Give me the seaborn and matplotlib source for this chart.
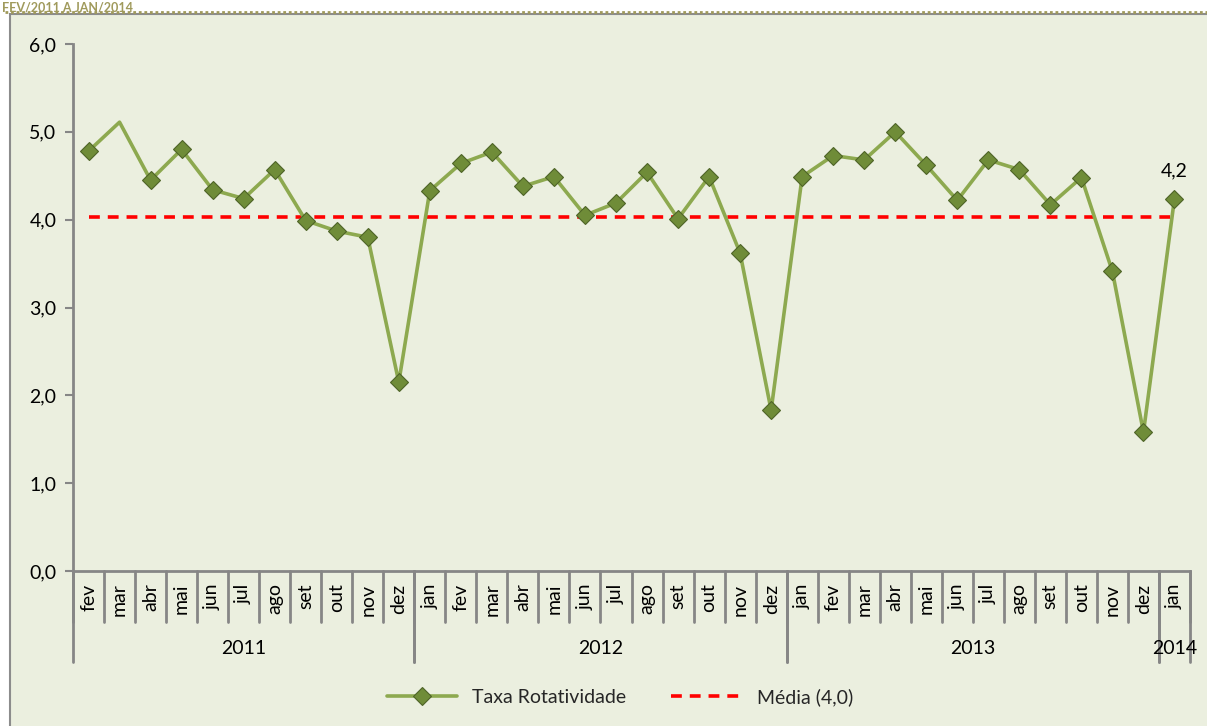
import numpy as np
import pandas as pd
import seaborn as sns
import matplotlib.pyplot as plt
from matplotlib.patches import Rectangle
from matplotlib.lines import Line2D
from matplotlib.ticker import FuncFormatter
import matplotlib.transforms as mtrans

# data
months = ["fev", "mar", "abr", "mai", "jun", "jul", "ago", "set", "out", "nov", "dez",
          "jan", "fev", "mar", "abr", "mai", "jun", "jul", "ago", "set", "out", "nov", "dez",
          "jan", "fev", "mar", "abr", "mai", "jun", "jul", "ago", "set", "out", "nov", "dez",
          "jan"]
years = ["2011", "2012", "2013", "2014"]
year_counts = [11, 12, 12, 1]
taxa = [4.78, 5.11, 4.45, 4.80, 4.34, 4.24, 4.57, 3.99, 3.87, 3.80, 2.15,
        4.33, 4.64, 4.77, 4.38, 4.49, 4.05, 4.19, 4.54, 4.01, 4.49, 3.62, 1.83,
        4.49, 4.73, 4.68, 5.00, 4.62, 4.22, 4.68, 4.57, 4.17, 4.48, 3.41, 1.58,
        4.24]
media = 4.03

df = pd.DataFrame({"pos": np.arange(len(taxa)), "taxa": taxa})

sns.set_theme(style="white")
plt.rcParams['font.family'] = ['Lato', 'DejaVu Sans']
fs = 14

fig = plt.figure(figsize=(12.07, 7.26), dpi=100, facecolor="white")

# chart area background + border
bg = "#EBEFDF"
fig.patches.append(Rectangle((10 / 1207, -0.05), 1.1, 1 - 14 / 726 + 0.05,
                             transform=fig.transFigure, facecolor=bg,
                             edgecolor="#8C8C8C", linewidth=1.5, zorder=-5))
fig.lines.append(Line2D([5 / 1207, 1], [1 - 12 / 726] * 2, transform=fig.transFigure,
                        color="#A09A5C", linewidth=2, linestyle=(0, (1, 1)), zorder=-4))
fig.text(2 / 1207, 1 - 1 / 726, "FEV/2011 A JAN/2014", color="#A09A5C",
         fontsize=9, fontweight="bold", va="top", ha="left")

ax = fig.add_axes([73 / 1207, 1 - 571 / 726, 1117 / 1207, 527 / 726])
ax.set_facecolor(bg)

line_c = "#8DA94F"
mk = [i for i in range(len(taxa)) if i != 1]
sns.lineplot(data=df, x="pos", y="taxa", ax=ax, color=line_c, linewidth=2.6,
             marker="D", markersize=9.5, markerfacecolor="#6F8C38",
             markeredgecolor="#4E6427", markeredgewidth=0.8, markevery=mk,
             label="Taxa Rotatividade", legend=False, zorder=3)
ax.plot([0, len(taxa) - 1], [media, media], color="#FF0000", linewidth=2.6,
        linestyle=(0, (3, 2.2)), label="Média (4,0)", zorder=2)

ax.annotate("4,2", (len(taxa) - 1, taxa[-1]), xytext=(0, 14), textcoords="offset points",
            ha="center", va="bottom", fontsize=fs, color="black")

ax.set_xlim(-0.5, len(taxa) - 0.5)
ax.set_ylim(0, 6)
ax.set_yticks(np.arange(0, 7, 1))
ax.yaxis.set_major_formatter(FuncFormatter(lambda v, p: f"{v:.1f}".replace(".", ",")))
ax.tick_params(axis="y", which="major", length=6, width=1.5, color="#868686",
               labelsize=fs, labelcolor="black", pad=6, left=True)
ax.set_xticks(np.arange(len(taxa)))
ax.set_xticklabels(months, rotation=90, fontsize=fs)
ax.tick_params(axis="x", length=0, pad=9, labelcolor="black")
ax.set_xlabel("")
ax.set_ylabel("")
for s in ["top", "right"]:
    ax.spines[s].set_visible(False)
for s in ["left", "bottom"]:
    ax.spines[s].set_color("#868686")
    ax.spines[s].set_linewidth(2)

# hierarchical category axis separators
tr = mtrans.blended_transform_factory(ax.transData, ax.transAxes)
px = 1 / 527
for i in range(len(taxa) + 1):
    ax.plot([i - 0.5, i - 0.5], [0, -51 * px], transform=tr, color="#868686",
            linewidth=2, clip_on=False)
start = 0
for y, n in zip(years, year_counts):
    for edge in (start, start + n):
        ax.plot([edge - 0.5, edge - 0.5], [0, -91 * px], transform=tr, color="#868686",
                linewidth=2, clip_on=False)
    ax.text(start + n / 2 - 0.5, -78 * px, y, transform=tr, ha="center", va="center",
            fontsize=fs, color="black")
    start += n

handles = [ax.lines[0], ax.lines[1]]
labels = ["Taxa Rotatividade", "Média (4,0)"]
leg = fig.legend(handles, labels, loc="center", bbox_to_anchor=(620 / 1207, 1 - 697 / 726),
                 ncol=2, frameon=False, fontsize=fs, handlelength=3.6, columnspacing=2.3,
                 handletextpad=0.8)

fig.savefig("out.png", dpi=100, facecolor=fig.get_facecolor())
